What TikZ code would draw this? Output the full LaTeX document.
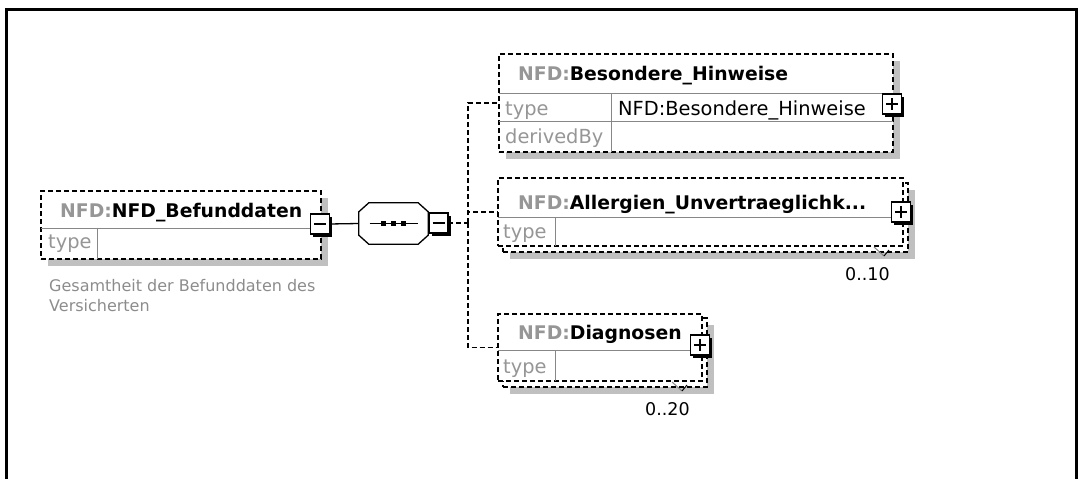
\documentclass[tikz,border=0pt]{standalone}
\usepackage{fontspec}
\setmainfont{DejaVu Sans}
\usetikzlibrary{positioning,calc,shadows}

\definecolor{nsgray}{RGB}{150,150,150}
\definecolor{descgray}{RGB}{140,140,140}
\definecolor{linegray}{RGB}{135,135,135}
\definecolor{shadowgray}{RGB}{192,192,192}

\begin{document}
\begin{tikzpicture}[x=1pt,y=-1pt,
    elem/.style={draw=black, line width=1.4pt, dash pattern=on 5pt off 3pt, fill=white,
      inner sep=0pt, outer sep=0pt, anchor=north west},
    elemshadow/.style={general shadow={fill=shadowgray, shadow xshift=7pt, shadow yshift=-7pt}},
    rowline/.style={draw=linegray, line width=1pt},
    conn/.style={draw=black, line width=1.3pt, dash pattern=on 5pt off 3pt},
    solidconn/.style={draw=black, line width=1.3pt},
    tgl/.style={draw=black, line width=1.3pt, fill=white, minimum width=19pt, minimum height=20pt,
      inner sep=0pt, outer sep=0pt, general shadow={fill=black, shadow xshift=2.5pt, shadow yshift=-2.5pt}},
    titletxt/.style={anchor=base west, inner sep=0pt, font=\fontsize{18.8}{22}\selectfont\bfseries},
    celltxt/.style={anchor=base west, inner sep=0pt, font=\fontsize{19.4}{22}\selectfont},
    desctxt/.style={anchor=base west, inner sep=0pt, text=descgray,
      font=\fontsize{16}{20}\selectfont},
    occtxt/.style={anchor=base west, inner sep=0pt, font=\fontsize{17.5}{20}\selectfont}]

    \useasboundingbox (0,0) rectangle (1082,479);

    % frame
    \draw[line width=3pt] (6,479) -- (6,9) -- (1076,9) -- (1076,479);

    % root element
    \node[elem, elemshadow, minimum width=280pt, minimum height=68pt] (befund) at (41,191) {};
    \draw[rowline] (befund.west |- 0,228) -- (befund.east |- 0,228);
    \draw[rowline] (97,228) -- (97,259);
    \node[titletxt] (befundname) at (60,217) {\textcolor{nsgray}{NFD:}NFD\_Befunddaten};
    \node[celltxt, text=nsgray] (befundtype) at (48,248) {type};
    \node[desctxt] (befunddesc) at (49,291) {Gesamtheit der Befunddaten des};
    \node[desctxt] (befunddesc2) at (49,311) {Versicherten};
    \node[tgl] (befundtgl) at (320,224) {};
    \draw[line width=1.3pt] ($(befundtgl.center)+(-6,0)$) -- ($(befundtgl.center)+(6,0)$);

    % sequence
    \node[minimum width=69pt, minimum height=41pt, inner sep=0pt] (seq) at (393.5,223.5) {};
    \fill[shadowgray, shift={(7,7)}] ($(seq.north west)+(10,0)$) -- ($(seq.north east)+(-10,0)$)
      -- ($(seq.north east)+(0,9)$) -- ($(seq.south east)+(0,-9)$) -- ($(seq.south east)+(-10,0)$)
      -- ($(seq.south west)+(10,0)$) -- ($(seq.south west)+(0,-9)$) -- ($(seq.north west)+(0,9)$) -- cycle;
    \draw[line width=1.3pt, fill=white] ($(seq.north west)+(10,0)$) -- ($(seq.north east)+(-10,0)$)
      -- ($(seq.north east)+(0,9)$) -- ($(seq.south east)+(0,-9)$) -- ($(seq.south east)+(-10,0)$)
      -- ($(seq.south west)+(10,0)$) -- ($(seq.south west)+(0,-9)$) -- ($(seq.north west)+(0,9)$) -- cycle;
    \draw[line width=1.3pt] ($(seq.center)+(-24,0)$) -- ($(seq.center)+(24,0)$);
    \foreach \dx in {-10,0,10}
      \fill ($(seq.center)+(\dx-2.5,-2.5)$) rectangle ++(5,5);
    \node[tgl] (seqtgl) at (438.5,223) {};
    \draw[line width=1.3pt] ($(seqtgl.center)+(-6,0)$) -- ($(seqtgl.center)+(6,0)$);

    \draw[solidconn] (befundtgl.east) -- (seq.west);

    % Besondere_Hinweise
    \node[elem, elemshadow, minimum width=394pt, minimum height=98pt] (hinweise) at (499,54) {};
    \draw[rowline] (hinweise.west |- 0,93) -- (hinweise.east |- 0,93);
    \draw[rowline] (hinweise.west |- 0,121) -- (hinweise.east |- 0,121);
    \draw[rowline] (611,93) -- (611,152);
    \node[titletxt] (hinweisename) at (518,80) {\textcolor{nsgray}{NFD:}Besondere\_Hinweise};
    \node[celltxt, text=nsgray] (hinweisetype) at (505,115) {type};
    \node[celltxt] (hinweisetypeval) at (618,115) {NFD:Besondere\_Hinweise};
    \node[celltxt, text=nsgray] (hinweisederiv) at (505,143) {derivedBy};
    \node[tgl] (hinweisetgl) at (892,104) {};
    \draw[line width=1.3pt] ($(hinweisetgl.center)+(-6,0)$) -- ($(hinweisetgl.center)+(6,0)$);
    \draw[line width=1.3pt] ($(hinweisetgl.center)+(0,-6)$) -- ($(hinweisetgl.center)+(0,6)$);

    % Allergien_Unvertraeglichkeiten (0..10)
    \node[elem, elemshadow, minimum width=405pt, minimum height=69pt] (allergback) at (503,183) {};
    \node[elem, minimum width=405pt, minimum height=68pt] (allerg) at (498,178) {};
    \draw[rowline] (allerg.west |- 0,217) -- (allerg.east |- 0,217);
    \draw[rowline] (555,217) -- (555,246);
    \node[titletxt] (allergname) at (518,209) {\textcolor{nsgray}{NFD:}Allergien\_Unvertraeglichk...};
    \node[celltxt, text=nsgray] (allergtype) at (503,238) {type};
    \node[tgl] (allergtgl) at (901,212) {};
    \draw[line width=1.3pt] ($(allergtgl.center)+(-6,0)$) -- ($(allergtgl.center)+(6,0)$);
    \draw[line width=1.3pt] ($(allergtgl.center)+(0,-6)$) -- ($(allergtgl.center)+(0,6)$);
    \draw[linegray, line width=1pt] (874,247) -- (884,256);
    \draw[black, line width=1pt] (884,256) -- (889,250);
    \node[occtxt] (allergocc) at (845,280) {0..10};

    % Diagnosen (0..20)
    \node[elem, elemshadow, minimum width=204pt, minimum height=69pt] (diagback) at (503,318) {};
    \node[elem, minimum width=204pt, minimum height=67pt] (diag) at (498,314) {};
    \draw[rowline] (diag.west |- 0,350) -- (diag.east |- 0,350);
    \draw[rowline] (555,350) -- (555,381);
    \node[titletxt] (diagname) at (518,339) {\textcolor{nsgray}{NFD:}Diagnosen};
    \node[celltxt, text=nsgray] (diagtype) at (503,373) {type};
    \node[tgl] (diagtgl) at (700,345) {};
    \draw[line width=1.3pt] ($(diagtgl.center)+(-6,0)$) -- ($(diagtgl.center)+(6,0)$);
    \draw[line width=1.3pt] ($(diagtgl.center)+(0,-6)$) -- ($(diagtgl.center)+(0,6)$);
    \draw[linegray, line width=1pt] (672,382) -- (682,391);
    \draw[black, line width=1pt] (682,391) -- (687,385);
    \node[occtxt] (diagocc) at (645,415) {0..20};

    % tree of the sequence
    \coordinate (fork) at (468,223);
    \draw[conn] (seqtgl.east) -- (fork);
    \draw[conn] (fork) |- (hinweise.west);
    \draw[conn] (fork) |- (allerg.west);
    \draw[conn] (fork) |- (diag.west);
\end{tikzpicture}
\end{document}
